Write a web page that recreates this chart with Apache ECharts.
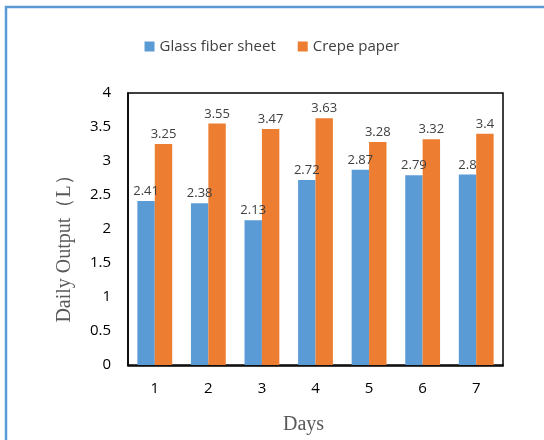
<!DOCTYPE html>
<html><head><meta charset="utf-8">
<script src="https://cdn.jsdelivr.net/npm/echarts@6/dist/echarts.min.js"></script>
<style>html,body{margin:0;padding:0;background:#fff}#c{width:544px;height:440px}</style>
</head><body><div id="c"></div>
<script>
const days = ['1','2','3','4','5','6','7'];
const glassFiber = [2.41, 2.38, 2.13, 2.72, 2.87, 2.79, 2.8];
const crepePaper = [3.25, 3.55, 3.47, 3.63, 3.28, 3.32, 3.4];
const seriesNames = ['Glass fiber sheet', 'Crepe paper'];

const chart = echarts.init(document.getElementById('c'), null, {renderer:'canvas'});
const labelStyle = {show:true, position:'top', distance:3, color:'#404040', fontSize:13, fontFamily:'"Open Sans", sans-serif'};
chart.setOption({
  animation:false,
  backgroundColor:'#fff',
  graphic:[
    {type:'rect', shape:{x:6, y:7, width:600, height:500}, style:{fill:null, stroke:'#5B9BD5', lineWidth:2.5}, silent:true},
    {type:'rect', shape:{x:128, y:93, width:375, height:273}, style:{fill:null, stroke:'#000', lineWidth:1.5}, silent:true, z:-1}
  ],
  legend:{
    top:34, left:'center', itemWidth:10, itemHeight:10, itemGap:22,
    icon:'rect',
    textStyle:{color:'#404040', fontSize:15, fontFamily:'"Open Sans", sans-serif'},
    data:seriesNames
  },
  grid:{left:128, top:93, right:41, bottom:74},
  xAxis:{
    type:'category', data:days,
    axisLine:{show:true, lineStyle:{color:'#000', width:1.5}},
    axisTick:{show:false},
    axisLabel:{color:'#000', fontSize:15, margin:16, fontFamily:'"Open Sans", sans-serif'},
    name:'Days', nameLocation:'middle', nameGap:50,
    nameTextStyle:{color:'#595959', fontSize:20, fontFamily:'"Liberation Serif", serif', padding:[0,24,0,0]}
  },
  yAxis:{
    type:'value', min:0, max:4, interval:0.5,
    axisLine:{show:true, lineStyle:{color:'#000', width:1.5}},
    axisTick:{show:false},
    splitLine:{show:false},
    axisLabel:{color:'#000', fontSize:15, margin:17, fontFamily:'"Open Sans", sans-serif'},
    name:'Daily Output（L）', nameLocation:'middle', nameGap:53, nameRotate:90,
    nameTextStyle:{color:'#595959', fontSize:20, fontFamily:'"Liberation Serif", serif', padding:[0,30,0,0]}
  },
  series:[
    {name:seriesNames[0], type:'bar', data:glassFiber, barGap:'0%', barCategoryGap:'35%',
     itemStyle:{color:'#5B9BD5'}, label:labelStyle},
    {name:seriesNames[1], type:'bar', data:crepePaper,
     itemStyle:{color:'#ED7D31'}, label:labelStyle}
  ]
});
</script></body></html>
